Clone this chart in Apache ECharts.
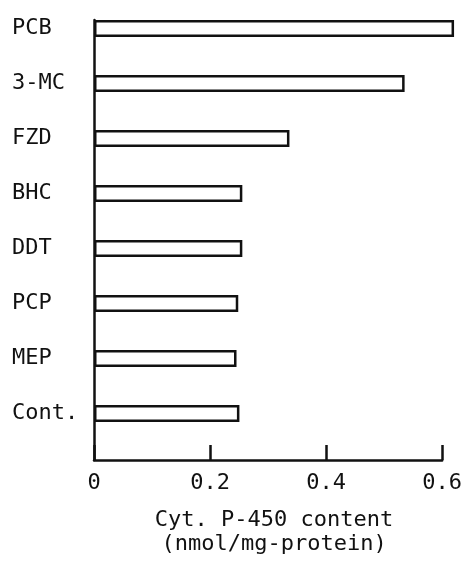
<!DOCTYPE html>
<html>
<head>
<meta charset="utf-8">
<script src="https://cdn.jsdelivr.net/npm/echarts@6/dist/echarts.min.js"></script>
<style>
  html, body { margin: 0; padding: 0; background: #fff; }
  #chart { width: 465px; height: 564px; }
</style>
</head>
<body>
<div id="chart"></div>
<script>
// treatments, top to bottom
var categories = ['PCB', '3-MC', 'FZD', 'BHC', 'DDT', 'PCP', 'MEP', 'Cont.'];
// Cyt. P-450 content (nmol/mg-protein)
var p450 = [0.619, 0.534, 0.336, 0.255, 0.255, 0.248, 0.245, 0.250];
var xTicks = [0, 0.2, 0.4, 0.6];

var font = 'DejaVu Sans Mono';
var ink = '#111';

var chart = echarts.init(document.getElementById('chart'));
chart.setOption({
  animation: false,
  grid: [
    // bars + category labels
    { left: 94, right: 22, top: 1, bottom: 123 },
    // axis frame
    { left: 94, right: 22, top: 20, bottom: 104 }
  ],
  xAxis: [
    { gridIndex: 0, type: 'value', min: 0, max: 0.6, show: false },
    {
      gridIndex: 1, type: 'value', min: xTicks[0], max: xTicks[xTicks.length - 1], interval: 0.2,
      axisLine: { show: true, lineStyle: { color: ink, width: 2.5 } },
      axisTick: { show: true, inside: true, length: 15, lineStyle: { color: ink, width: 2.5 } },
      splitLine: { show: false },
      axisLabel: {
        color: ink, fontFamily: font, fontSize: 22, margin: 12,
        formatter: function (v) { return v === 0 ? '0' : v.toFixed(1); }
      },
      name: 'Cyt. P-450 content\n(nmol/mg-protein)',
      nameLocation: 'middle',
      nameGap: 48,
      nameTextStyle: { color: ink, fontFamily: font, fontSize: 22, lineHeight: 24, padding: [0, 0, 0, 12] }
    }
  ],
  yAxis: [
    {
      gridIndex: 0, type: 'category', inverse: true, data: categories,
      axisLine: { show: false }, axisTick: { show: false },
      axisLabel: { color: ink, fontFamily: font, fontSize: 22, align: 'left', margin: 82 }
    },
    {
      gridIndex: 1, type: 'value', min: 0, max: 1,
      axisLine: { show: true, lineStyle: { color: ink, width: 2.5 } },
      axisTick: { show: false }, axisLabel: { show: false }, splitLine: { show: false }
    }
  ],
  series: [{
    type: 'bar',
    xAxisIndex: 0, yAxisIndex: 0,
    data: p450,
    barWidth: 17,
    clip: false,
    itemStyle: { color: '#fff', borderColor: ink, borderWidth: 2.5 }
  }]
});
</script>
</body>
</html>
